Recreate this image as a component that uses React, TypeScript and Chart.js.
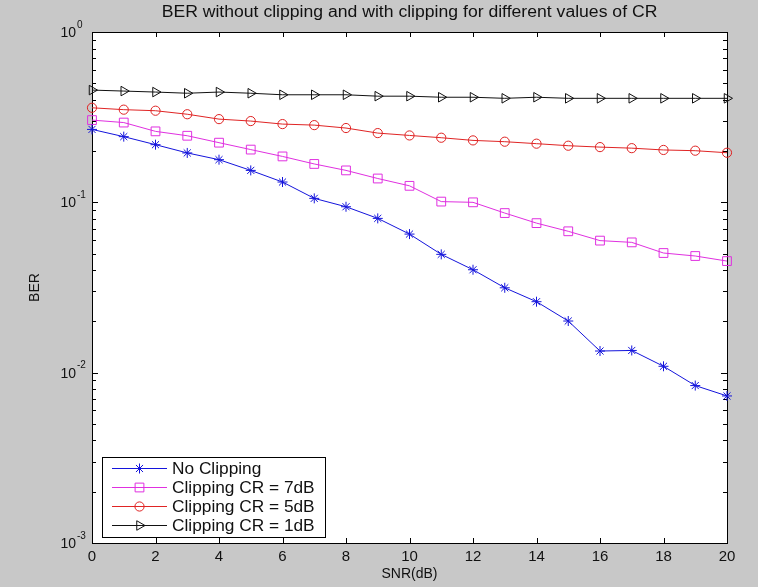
import React, { useEffect, useRef } from "react";
import { Chart, registerables } from "chart.js";

Chart.register(...registerables);

const snr = [0, 1, 2, 3, 4, 5, 6, 7, 8, 9, 10, 11, 12, 13, 14, 15, 16, 17, 18, 19, 20];
const noClipping = [0.268, 0.243, 0.218, 0.195, 0.178, 0.154, 0.1316, 0.1055, 0.0942, 0.0805, 0.0651, 0.0495, 0.0402, 0.0315, 0.0261, 0.0201, 0.0134, 0.0135, 0.0109, 0.0084, 0.0073];
const clipCR7 = [0.304, 0.294, 0.261, 0.246, 0.224, 0.204, 0.186, 0.168, 0.154, 0.138, 0.125, 0.101, 0.1, 0.0865, 0.0755, 0.0676, 0.0596, 0.0582, 0.0504, 0.0484, 0.0452];
const clipCR5 = [0.359, 0.35, 0.345, 0.329, 0.308, 0.3, 0.288, 0.284, 0.273, 0.255, 0.247, 0.2395, 0.231, 0.227, 0.221, 0.215, 0.211, 0.208, 0.203, 0.201, 0.1955];
const clipCR1 = [0.456, 0.45, 0.444, 0.437, 0.444, 0.437, 0.428, 0.428, 0.428, 0.42, 0.42, 0.414, 0.414, 0.408, 0.414, 0.408, 0.408, 0.408, 0.408, 0.408, 0.408];

const seriesNames = ["No Clipping", "Clipping CR = 7dB", "Clipping CR = 5dB", "Clipping CR = 1dB"];
const xTickValues = [0, 2, 4, 6, 8, 10, 12, 14, 16, 18, 20];
const yDecadeExponents = [0, -1, -2, -3];
const titleText = "BER without clipping and with clipping for different values of CR";
const xTitle = "SNR(dB)";
const yTitle = "BER";

const FONT = "'Liberation Sans', Arial, sans-serif";
const BLUE = "#1414dc";
const MAGENTA = "#e030e0";
const RED = "#e02424";
const BLACK = "#111111";

type Style = { color: string; point: string; radius: number; rotation: number };
const styles: Style[] = [
  { color: BLUE, point: "star", radius: 5, rotation: 0 },
  { color: MAGENTA, point: "rect", radius: 6.2, rotation: 0 },
  { color: RED, point: "circle", radius: 4.6, rotation: 0 },
  { color: BLACK, point: "triangle", radius: 5.5, rotation: 90 },
];

function drawMarker(ctx: CanvasRenderingContext2D, s: Style, x: number, y: number) {
  ctx.save();
  ctx.strokeStyle = s.color;
  ctx.lineWidth = 1;
  ctx.beginPath();
  const r = s.radius;
  if (s.point === "star") {
    ctx.moveTo(x - r, y); ctx.lineTo(x + r, y);
    ctx.moveTo(x, y - r); ctx.lineTo(x, y + r);
    const d = r * Math.SQRT1_2;
    ctx.moveTo(x - d, y - d); ctx.lineTo(x + d, y + d);
    ctx.moveTo(x - d, y + d); ctx.lineTo(x + d, y - d);
  } else if (s.point === "rect") {
    const h = r * Math.SQRT1_2;
    ctx.rect(x - h, y - h, 2 * h, 2 * h);
  } else if (s.point === "circle") {
    ctx.arc(x, y, r, 0, Math.PI * 2);
  } else {
    let rad = (s.rotation * Math.PI) / 180;
    ctx.moveTo(x + Math.sin(rad) * r, y - Math.cos(rad) * r);
    rad += (2 * Math.PI) / 3;
    ctx.lineTo(x + Math.sin(rad) * r, y - Math.cos(rad) * r);
    rad += (2 * Math.PI) / 3;
    ctx.lineTo(x + Math.sin(rad) * r, y - Math.cos(rad) * r);
    ctx.closePath();
  }
  ctx.stroke();
  ctx.restore();
}

function stretchedText(ctx: CanvasRenderingContext2D, text: string, x: number, y: number, sx: number) {
  ctx.save();
  ctx.translate(x, y);
  ctx.scale(sx, 1);
  ctx.fillText(text, 0, 0);
  ctx.restore();
}

const matlabPlugin = {
  id: "matlabLook",
  beforeDraw(chart: any) {
    const { ctx, chartArea: a, width, height } = chart;
    ctx.save();
    ctx.fillStyle = "#c8c8c8";
    ctx.fillRect(0, 0, width, height);
    ctx.fillStyle = "#ffffff";
    ctx.fillRect(a.left, a.top, a.right - a.left, a.bottom - a.top);
    ctx.restore();
  },
  beforeDatasetsDraw(chart: any) {
    const { ctx, chartArea: a, scales } = chart;
    const xs = scales.x;
    const ys = scales.y;
    ctx.save();
    ctx.strokeStyle = "#000";
    ctx.lineWidth = 1;
    ctx.strokeRect(Math.round(a.left) + 0.5, Math.round(a.top) + 0.5, Math.round(a.right - a.left), Math.round(a.bottom - a.top));
    ctx.beginPath();
    xTickValues.forEach((v) => {
      const px = Math.round(xs.getPixelForValue(v)) + 0.5;
      ctx.moveTo(px, a.bottom); ctx.lineTo(px, a.bottom - 5);
      ctx.moveTo(px, a.top); ctx.lineTo(px, a.top + 5);
    });
    yDecadeExponents.forEach((e) => {
      for (let m = 1; m <= 9; m++) {
        const v = m * Math.pow(10, e);
        if (v > 1.0001) continue;
        const py = Math.round(ys.getPixelForValue(v)) + 0.5;
        const len = m === 1 ? 6 : 4;
        ctx.moveTo(a.left, py); ctx.lineTo(a.left + len, py);
        ctx.moveTo(a.right, py); ctx.lineTo(a.right - len, py);
      }
    });
    ctx.stroke();
    ctx.restore();
  },
  afterDraw(chart: any) {
    const { ctx, chartArea: a, scales } = chart;
    const ys = scales.y;
    ctx.save();
    // title
    ctx.fillStyle = "#111";
    ctx.font = `16px ${FONT}`;
    ctx.textAlign = "center";
    ctx.textBaseline = "middle";
    stretchedText(ctx, titleText, (a.left + a.right) / 2, 13, 1.1);
    // y tick labels 10^e
    yDecadeExponents.forEach((e) => {
      const py = ys.getPixelForValue(Math.pow(10, e));
      const expStr = e === 0 ? "0" : "-" + String(-e);
      const baseRight = a.left - 16;
      ctx.textBaseline = "middle";
      ctx.font = `14px ${FONT}`;
      ctx.textAlign = "right";
      ctx.fillText("10", baseRight, py + 1);
      ctx.font = `10px ${FONT}`;
      ctx.textAlign = "left";
      ctx.fillText(expStr, baseRight + 1, py - 7);
    });
    // legend
    const lx = 102, ly = 457, lw = 223, lh = 80;
    ctx.fillStyle = "#fff";
    ctx.fillRect(lx, ly, lw, lh);
    ctx.strokeStyle = "#000";
    ctx.lineWidth = 1;
    ctx.strokeRect(lx + 0.5, ly + 0.5, lw, lh);
    const rowY = [468.5, 487.5, 506.5, 525.5];
    seriesNames.forEach((name, i) => {
      const s = styles[i];
      const y = rowY[i];
      ctx.strokeStyle = s.color;
      ctx.beginPath();
      ctx.moveTo(112, y); ctx.lineTo(167, y);
      ctx.stroke();
      drawMarker(ctx, s, 139.5, y);
      ctx.fillStyle = "#111";
      ctx.font = `16px ${FONT}`;
      ctx.textAlign = "left";
      ctx.textBaseline = "middle";
      stretchedText(ctx, name, 172, y + 1, 1.08);
    });
    ctx.restore();
  },
};

export default function App() {
  const ref = useRef<HTMLCanvasElement | null>(null);
  useEffect(() => {
    document.body.style.margin = "0";
    const seriesValues = [noClipping, clipCR7, clipCR5, clipCR1];
    const chart = new Chart(ref.current as HTMLCanvasElement, {
      type: "line",
      data: {
        datasets: seriesValues.map((vals, i) => ({
          label: seriesNames[i],
          data: snr.map((x, j) => ({ x, y: vals[j] })),
          borderColor: styles[i].color,
          backgroundColor: "rgba(0,0,0,0)",
          borderWidth: 1,
          pointStyle: styles[i].point as any,
          pointRadius: styles[i].radius,
          pointRotation: styles[i].rotation,
          pointBorderColor: styles[i].color,
          pointBackgroundColor: "rgba(0,0,0,0)",
          pointBorderWidth: 1,
          tension: 0,
          clip: false as any,
        })),
      },
      options: {
        animation: false,
        responsive: false,
        layout: { padding: { top: 32, right: 31, left: 0, bottom: 0 } },
        plugins: { legend: { display: false }, title: { display: false }, tooltip: { enabled: false } },
        scales: {
          x: {
            type: "linear",
            min: 0,
            max: 20,
            grid: { display: false, drawTicks: false },
            border: { display: false },
            afterFit: (s: any) => { s.height = 44; },
            afterBuildTicks: (s: any) => { s.ticks = xTickValues.map((v) => ({ value: v })); },
            ticks: { autoSkip: false, maxRotation: 0, color: "#111", padding: 5, font: { family: FONT, size: 15 } },
            title: { display: true, text: xTitle, color: "#111", padding: { top: 0, bottom: 4 }, font: { family: FONT, size: 14 } },
          },
          y: {
            type: "logarithmic",
            min: 0.001,
            max: 1,
            grid: { display: false, drawTicks: false },
            border: { display: false },
            afterFit: (s: any) => { s.width = 92; },
            ticks: { display: false },
            title: { display: true, text: yTitle, color: "#111", padding: { top: 27, bottom: 0 }, font: { family: FONT, size: 14 } },
          },
        },
      },
      plugins: [matlabPlugin],
    } as any);
    return () => chart.destroy();
  }, []);
  return (
    <div style={{ position: "absolute", left: 0, top: 0, width: 758, height: 587 }}>
      <canvas ref={ref} width={758} height={587} />
    </div>
  );
}
